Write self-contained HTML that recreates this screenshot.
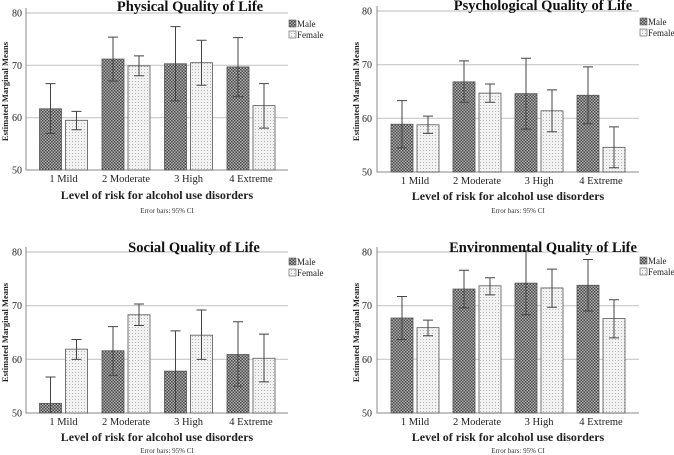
<!DOCTYPE html>
<html><head><meta charset="utf-8"><style>
html,body{margin:0;padding:0;background:#fff;}
svg{display:block;}
svg text{font-family:"Liberation Serif",serif;}
</style></head><body>
<svg id="chart" width="674" height="455" viewBox="0 0 674 455">
<defs>
<pattern id="pm" width="3" height="3" patternUnits="userSpaceOnUse">
<rect width="3" height="3" fill="#b0b0b0"/><rect width="1.5" height="1.5" fill="#4a4a4a"/><rect x="1.5" y="1.5" width="1.5" height="1.5" fill="#4a4a4a"/>
</pattern>
<pattern id="pf" width="3" height="3" patternUnits="userSpaceOnUse">
<rect width="3" height="3" fill="#f2f2f2"/><rect width="1" height="1" fill="#b5b5b5"/>
</pattern>
</defs>
</svg>
<script>
const categories = ["1 Mild","2 Moderate","3 High","4 Extreme"];
const yTicks = [50,60,70,80];
const titles = ["Physical Quality of Life","Psychological Quality of Life","Social Quality of Life","Environmental Quality of Life"];
// Physical
const physMale = [61.7,71.2,70.3,69.7];
const physMaleLo = [57,67,63.2,64];
const physMaleHi = [66.5,75.4,77.4,75.3];
const physFemale = [59.5,69.9,70.5,62.3];
const physFemaleLo = [57.7,68,66.2,58];
const physFemaleHi = [61.2,71.8,74.8,66.5];
// Psychological
const psyMale = [58.9,66.8,64.6,64.3];
const psyMaleLo = [54.5,63,58,59];
const psyMaleHi = [63.3,70.7,71.2,69.6];
const psyFemale = [58.8,64.7,61.4,54.6];
const psyFemaleLo = [57.2,63,57.5,50.8];
const psyFemaleHi = [60.4,66.4,65.3,58.4];
// Social
const socMale = [51.8,61.6,57.8,60.9];
const socMaleLo = [47,57,50,55];
const socMaleHi = [56.7,66.1,65.3,67];
const socFemale = [61.9,68.3,64.5,60.2];
const socFemaleLo = [60,66.3,60,55.8];
const socFemaleHi = [63.7,70.3,69.2,64.7];
// Environmental
const envMale = [67.7,73.1,74.2,73.8];
const envMaleLo = [63.7,69.6,68.3,69];
const envMaleHi = [71.7,76.6,80.2,78.6];
const envFemale = [65.9,73.7,73.3,67.6];
const envFemaleLo = [64.4,72,69.7,64];
const envFemaleHi = [67.3,75.2,76.8,71.1];

const series = [
 [physMale,physMaleLo,physMaleHi,physFemale,physFemaleLo,physFemaleHi],
 [psyMale,psyMaleLo,psyMaleHi,psyFemale,psyFemaleLo,psyFemaleHi],
 [socMale,socMaleLo,socMaleHi,socFemale,socFemaleLo,socFemaleHi],
 [envMale,envMaleLo,envMaleHi,envFemale,envFemaleLo,envFemaleHi]
];
const layouts = [
 {x0:26,x1:288,yT:13,yB:170,cx0:63.5,step:62.5,titleX:190,titleY:11,legX:289,legY:20,xtY:199,noteY:213,tickX:22,ytX:8},
 {x0:377,x1:639,yT:11,yB:172,cx0:415,step:62,titleX:543,titleY:10,legX:640,legY:18,xtY:200,noteY:213,tickX:372,ytX:359},
 {x0:26,x1:288,yT:252,yB:413,cx0:63.5,step:62.5,titleX:194,titleY:252,legX:289,legY:258,xtY:441,noteY:453,tickX:22,ytX:8},
 {x0:377,x1:639,yT:252,yB:413,cx0:415,step:62,titleX:543,titleY:252,legX:640,legY:257,xtY:441,noteY:453,tickX:372,ytX:359}
];
const NS="http://www.w3.org/2000/svg";
const svg=document.getElementById('chart');
function mk(tag,attrs,parent){const e=document.createElementNS(NS,tag);for(const k in attrs)e.setAttribute(k,attrs[k]);(parent||svg).appendChild(e);return e;}
function txt(s,attrs,parent){attrs['font-family']='Liberation Serif, serif';const e=mk('text',attrs,parent);e.textContent=s;return e;}

layouts.forEach((L,p)=>{
 const g=mk('g',{});
 
 
 const y=v=>L.yB-(Math.max(50,Math.min(80.5,v))-50)/30*(L.yB-L.yT);
 const [m,mlo,mhi,f,flo,fhi]=series[p];
 yTicks.forEach(t=>{
  if(t>50){const gl=mk('line',{x1:L.x0,x2:L.x1,y1:y(t),y2:y(t),stroke:'#c8c8c8','stroke-width':1.2},g);
   
   }
  const tl=txt(String(t),{x:L.tickX,y:y(t)+3.5,'text-anchor':'end','font-size':10,fill:'#222'},g);
  
  
 });
 const ax=mk('path',{d:`M${L.x0},${L.yT-5}V${L.yB}H${L.x1}`,fill:'none',stroke:'#888','stroke-width':1},g);
 
 
 categories.forEach((c,i)=>{
  const cx=L.cx0+i*L.step;
  [[m,mlo,mhi,'url(#pm)',-24,'male'],[f,flo,fhi,'url(#pf)',2,'female']].forEach(([v,lo,hi,fill,dx,nm])=>{
   const b=mk('rect',{x:cx+dx,y:y(v[i]),width:22,height:L.yB-y(v[i]),fill:fill,stroke:'#555','stroke-width':0.8},g);
   
   
   const ex=cx+dx+11;
   const eb=mk('path',{d:`M${ex},${y(lo[i])}V${y(hi[i])}M${ex-5},${y(hi[i])}H${ex+5}`+(lo[i]>50?`M${ex-5},${y(lo[i])}H${ex+5}`:''),stroke:'#444','stroke-width':1,fill:'none'},g);
   
   
  });
  const cl=txt(c,{x:cx,y:L.yB+12,'text-anchor':'middle','font-size':10.5,fill:'#222'},g);
  
  
 });
 const t=txt(titles[p],{x:L.titleX,y:L.titleY,'text-anchor':'middle','font-size':14.5,'font-weight':'bold',fill:'#111'},g);
 
 
 const xt=txt('Level of risk for alcohol use disorders',{x:(L.x0+L.x1)/2,y:L.xtY,'text-anchor':'middle','font-size':12,'font-weight':'bold',fill:'#222'},g);
 
 
 const nt=txt('Error bars: 95% CI',{x:(L.x0+L.x1)/2+10,y:L.noteY,'text-anchor':'middle','font-size':7,fill:'#333'},g);
 
 
 const cy=(L.yT+L.yB)/2;
 const yt=txt('Estimated Marginal Means',{x:L.ytX,y:cy,transform:`rotate(-90 ${L.ytX} ${cy})`,'text-anchor':'middle','font-size':8.5,'font-weight':'bold',fill:'#222'},g);
 
 
 [['Male','url(#pm)',0],['Female','url(#pf)',11]].forEach(([n,fill,dy])=>{
  const s=mk('rect',{x:L.legX,y:L.legY+dy,width:7,height:7,fill:fill,stroke:'#555','stroke-width':0.6},g);
  
  
  const lt=txt(n,{x:L.legX+8,y:L.legY+dy+7,'font-size':9,fill:'#222'},g);
  
  
 });
});
</script>
</body></html>
